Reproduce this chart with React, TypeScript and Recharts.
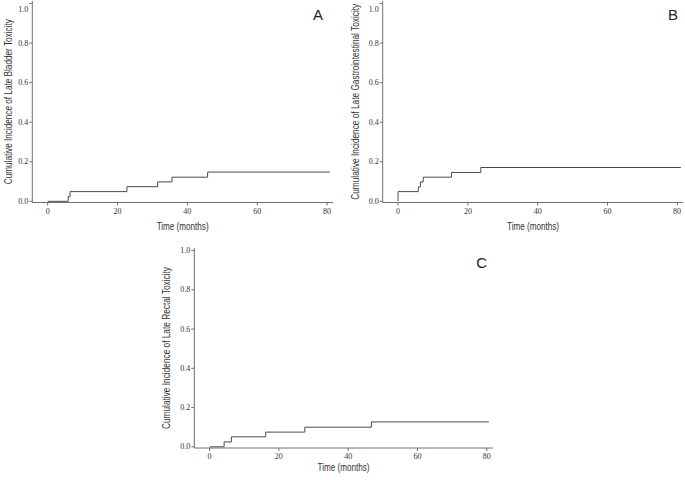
import { Line, LineChart, XAxis, YAxis } from "recharts";

// cumulative incidence step curves
const bladderTimes = [0, 5.9, 6.4, 22.7, 31.5, 35.6, 45.8, 80.8];
const bladderCI = [0, 0.024, 0.049, 0.074, 0.098, 0.122, 0.148, 0.148];

const giTimes = [0, 0, 5.8, 6.4, 7.2, 15.3, 23.7, 81.0];
const giCI = [0, 0.049, 0.073, 0.098, 0.122, 0.146, 0.171, 0.171];

const rectalTimes = [0, 4.2, 6.3, 16.2, 27.5, 46.7, 80.6];
const rectalCI = [0, 0.025, 0.051, 0.075, 0.1, 0.127, 0.127];

const xTicks = [0, 20, 40, 60, 80];
const yTicks = [0, 0.2, 0.4, 0.6, 0.8, 1.0];

const sans = "'Liberation Sans', Arial, sans-serif";
const serif = "'Liberation Serif', 'Times New Roman', serif";
const axisGray = "#6f6f6f";
const lineGray = "#4a4a4a";
const textGray = "#333";

// the original uses a narrow sans, so titles are squeezed to the measured widths
const xTitleLength = 52;

type PanelProps = {
  letter: string;
  yTitle: string;
  yTitleLength: number;
  times: number[];
  values: number[];
  left: number;
  top: number;
  width: number;
  height: number;
  margin: { top: number; right: number; left: number; bottom: number };
  yAxisWidth: number;
  xAxisHeight: number;
  yTitleX: number;
  xTitleY: number;
  letterX: number;
  letterY: number;
};

const YTick = ({ x, y, payload }: any) => (
  <text x={x} y={y} textAnchor="end" dominantBaseline="central" fontFamily={serif} fontSize={8} fill={textGray}>
    {Number(payload.value).toFixed(1)}
  </text>
);

const XTick = ({ x, y, payload }: any) => (
  <text x={x} y={y} dy="0.75em" textAnchor="middle" fontFamily={serif} fontSize={8} fill={textGray}>
    {payload.value}
  </text>
);

function Panel(p: PanelProps) {
  const data = p.times.map((t, i) => ({ t, ci: p.values[i] }));

  const yTitle = ({ viewBox }: any) => {
    const cy = viewBox.y + viewBox.height / 2;
    return (
      <text
        x={p.yTitleX}
        y={cy}
        transform={`rotate(-90, ${p.yTitleX}, ${cy})`}
        textAnchor="middle"
        dominantBaseline="central"
        fontFamily={sans}
        fontSize={10}
        fill={textGray}
        textLength={p.yTitleLength}
        lengthAdjust="spacingAndGlyphs"
      >
        {p.yTitle}
      </text>
    );
  };

  const xTitle = ({ viewBox }: any) => {
    const cx = viewBox.x + viewBox.width / 2;
    return (
      <text
        x={cx}
        y={p.xTitleY}
        textAnchor="middle"
        dominantBaseline="central"
        fontFamily={sans}
        fontSize={10}
        fill={textGray}
        textLength={xTitleLength}
        lengthAdjust="spacingAndGlyphs"
      >
        Time (months)
      </text>
    );
  };

  return (
    <>
      <div style={{ position: "absolute", left: p.left, top: p.top }}>
        <LineChart width={p.width} height={p.height} data={data} margin={p.margin}>
          <XAxis
            dataKey="t"
            type="number"
            domain={[-4.4, 81.7]}
            ticks={xTicks}
            allowDataOverflow
            height={p.xAxisHeight}
            stroke={axisGray}
            tickSize={3}
            tickMargin={2}
            tick={<XTick />}
            label={xTitle}
          />
          <YAxis
            type="number"
            domain={[-0.006, 1.013]}
            ticks={yTicks}
            allowDataOverflow
            width={p.yAxisWidth}
            stroke={axisGray}
            tickSize={3}
            tickMargin={1}
            tick={<YTick />}
            label={yTitle}
          />
          <YAxis
            yAxisId="frame"
            orientation="right"
            width={0}
            domain={[0, 1]}
            tick={false}
            tickLine={false}
            stroke="#999"
          />
          <Line
            dataKey="ci"
            type="stepAfter"
            stroke={lineGray}
            strokeWidth={1}
            dot={false}
            isAnimationActive={false}
          />
        </LineChart>
      </div>
      <div
        style={{
          position: "absolute",
          left: p.left + p.letterX - 10,
          top: p.top + p.letterY - 10,
          width: 20,
          height: 20,
          lineHeight: "20px",
          textAlign: "center",
          fontFamily: sans,
          fontSize: 15,
          color: "#222",
        }}
      >
        {p.letter}
      </div>
    </>
  );
}

export default function App() {
  return (
    <div style={{ position: "absolute", left: 0, top: 0, width: 685, height: 480, background: "#fff" }}>
      <Panel
        letter="A"
        yTitle="Cumulative Incidence of Late Bladder Toxicity"
        yTitleLength={165}
        times={bladderTimes}
        values={bladderCI}
        left={0}
        top={0}
        width={340}
        height={234}
        margin={{ top: 1, right: 7, left: 0, bottom: 0 }}
        yAxisWidth={32.3}
        xAxisHeight={31.5}
        yTitleX={8}
        xTitleY={226.7}
        letterX={318}
        letterY={15}
      />
      <Panel
        letter="B"
        yTitle="Cumulative Incidence of Late Gastrointestinal Toxicity"
        yTitleLength={196}
        times={giTimes}
        values={giCI}
        left={340}
        top={0}
        width={345}
        height={234}
        margin={{ top: 1, right: 1.7, left: 0, bottom: 0 }}
        yAxisWidth={42.7}
        xAxisHeight={31.5}
        yTitleX={15}
        xTitleY={226.7}
        letterX={333}
        letterY={15}
      />
      <Panel
        letter="C"
        yTitle="Cumulative Incidence of Late Rectal Toxicity"
        yTitleLength={162}
        times={rectalTimes}
        values={rectalCI}
        left={150}
        top={235}
        width={345}
        height={245}
        margin={{ top: 13, right: 2.3, left: 0, bottom: 0 }}
        yAxisWidth={44.3}
        xAxisHeight={32}
        yTitleX={16.7}
        xTitleY={232.5}
        letterX={331.7}
        letterY={28}
      />
    </div>
  );
}
